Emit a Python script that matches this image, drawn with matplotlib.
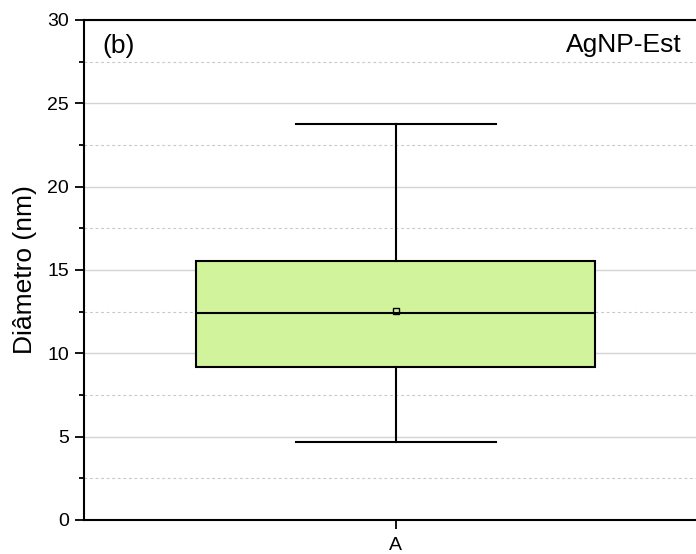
import matplotlib
matplotlib.use("Agg")
import matplotlib.pyplot as plt
from matplotlib.ticker import MultipleLocator

plt.rcParams['font.family'] = ['Liberation Sans', 'DejaVu Sans']

# box statistics for the diameter distribution (nm)
groups = ["A"]
whislo = [4.66]
q1 = [9.20]
med = [12.44]
q3 = [15.55]
whishi = [23.76]
means = [12.56]

BOX_COLOR = '#d0f39b'

stats = [dict(label=g, whislo=lo, q1=a, med=m, q3=b, whishi=hi, mean=mu, fliers=[])
         for g, lo, a, m, b, hi, mu in zip(groups, whislo, q1, med, q3, whishi, means)]

fig = plt.figure(figsize=(6.96, 5.54), dpi=100)
ax = fig.add_axes([0.12, 0.0614, 0.897, 0.9025])

ax.bxp(stats, positions=[1], widths=0.64, capwidths=0.32, showmeans=True,
       patch_artist=True,
       boxprops=dict(facecolor=BOX_COLOR, edgecolor='black', linewidth=1.5),
       medianprops=dict(color='black', linewidth=1.5),
       whiskerprops=dict(color='black', linewidth=1.5),
       capprops=dict(color='black', linewidth=1.5),
       meanprops=dict(marker='s', markersize=4, markerfacecolor='none',
                      markeredgecolor='black', markeredgewidth=1.0),
       zorder=3)

ax.set_xlim(0.5, 1.5)
ax.set_ylim(0, 30)
ax.yaxis.set_major_locator(MultipleLocator(5))
ax.yaxis.set_minor_locator(MultipleLocator(2.5))

ax.grid(True, which='major', axis='y', color='#d4d4d4', linestyle='-', linewidth=1.0, zorder=0)
ax.grid(True, which='minor', axis='y', color='#c8c8c8', linestyle=(0, (2.5, 2.5)), linewidth=0.8, zorder=0)
ax.set_axisbelow(True)

ax.spines['right'].set_visible(False)
for s in ['left', 'top', 'bottom']:
    ax.spines[s].set_linewidth(1.5)

ax.tick_params(axis='both', which='major', direction='out', length=6.5, width=1.3,
               labelsize=14, pad=4)
ax.tick_params(axis='x', which='major', pad=5.5)
ax.tick_params(axis='y', which='minor', direction='out', length=3.5, width=1.3)
ax.tick_params(axis='x', which='minor', bottom=False)

ax.set_ylabel('Diâmetro (nm)', fontsize=19, labelpad=7)

ax.text(0.0296, 0.934, '(b)', transform=ax.transAxes, fontsize=19,
        ha='left', va='baseline')
ax.text(0.9585, 0.936, 'AgNP-Est', transform=ax.transAxes, fontsize=19,
        ha='right', va='baseline')

fig.savefig('out.png', dpi=100)
